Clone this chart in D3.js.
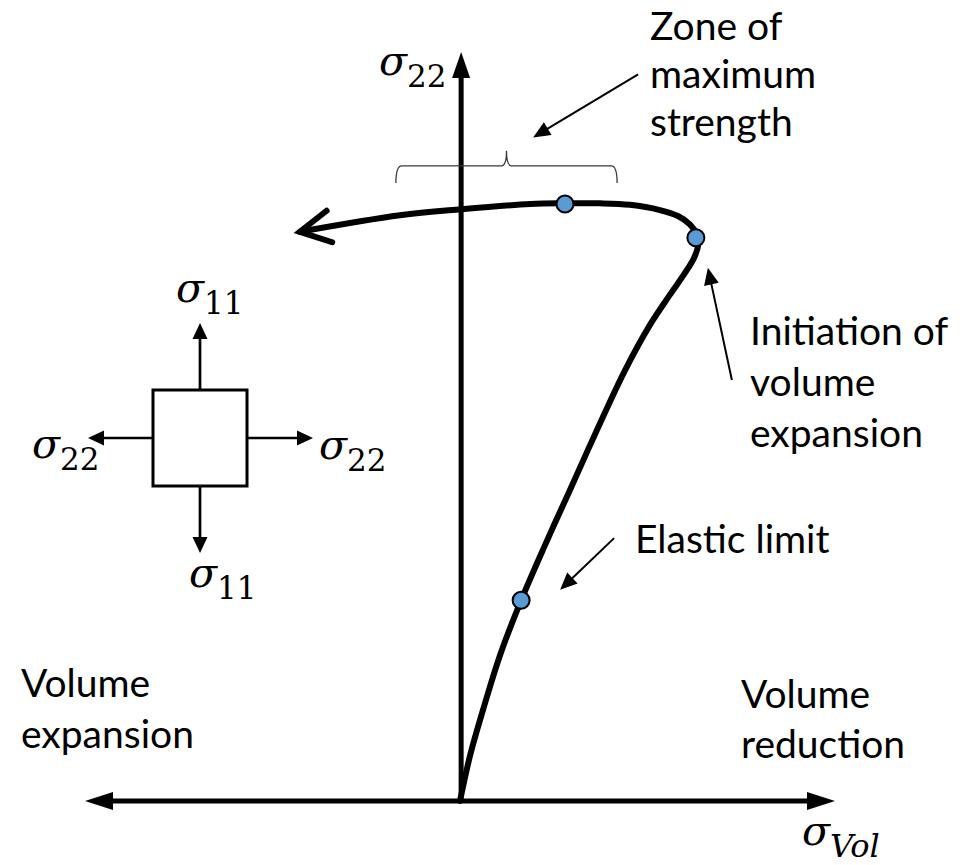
<!DOCTYPE html>
<html>
<head>
<meta charset="utf-8">
<script src="https://cdn.jsdelivr.net/npm/d3@7"></script>
<style>
  html, body { margin: 0; padding: 0; background: #fff; }
  svg { display: block; }
</style>
</head>
<body>
<svg id="chart" width="967" height="865"></svg>
<script>
// Stress path: volumetric stress (x) against axial stress sigma_22 (y), normalised units
const curveX = [0, 0.027, 0.061, 0.107, 0.163, 0.227, 0.293, 0.365, 0.440, 0.507, 0.560, 0.600, 0.624, 0.635, 0.632, 0.613, 0.581, 0.533, 0.453, 0.373, 0.283, 0.187, 0.003, -0.160, -0.427];
const curveY = [0, 0.061, 0.121, 0.195, 0.268, 0.342, 0.415, 0.495, 0.575, 0.636, 0.676, 0.705, 0.725, 0.742, 0.756, 0.770, 0.781, 0.789, 0.796, 0.798, 0.798, 0.797, 0.790, 0.782, 0.760];

// Key points on the path
const keyNames = ["Elastic limit", "Initiation of volume expansion", "Maximum strength"];
const keyX = [0.163, 0.629, 0.280];
const keyY = [0.268, 0.752, 0.797];

// Text labels
const axisLabelY = { sym: "σ", sub: "22", subItalic: false };
const axisLabelX = { sym: "σ", sub: "Vol", subItalic: true };
const zoneLines = ["Zone of", "maximum", "strength"];
const initLines = ["Initiation of", "volume", "expansion"];
const elasticLines = ["Elastic limit"];
const leftRegion = ["Volume", "expansion"];
const rightRegion = ["Volume", "reduction"];

const svg = d3.select("#chart");
const x = d3.scaleLinear().domain([-1, 1]).range([85, 835]);
const y = d3.scaleLinear().domain([0, 1]).range([801, 52]);

const textFont = "Lato, 'Open Sans', sans-serif";
const mathFont = "'DejaVu Serif', serif";

const defs = svg.append("defs");
defs.append("marker")
  .attr("id", "chevron")
  .attr("markerUnits", "userSpaceOnUse")
  .attr("orient", "auto")
  .attr("markerWidth", 80).attr("markerHeight", 80)
  .attr("viewBox", "-40 -40 80 80")
  .attr("refX", 0).attr("refY", 0)
  .append("path")
  .attr("d", "M-30,-16 L0,0 L-30,16")
  .attr("fill", "none").attr("stroke", "#000")
  .attr("stroke-width", 6).attr("stroke-linecap", "round").attr("stroke-linejoin", "miter");

// filled arrowhead helper: tip at (x2,y2)
function arrow(g, x1, y1, x2, y2, width, headLen, headHalf) {
  const a = Math.atan2(y2 - y1, x2 - x1);
  const bx = x2 - headLen * Math.cos(a), by = y2 - headLen * Math.sin(a);
  g.append("line").attr("x1", x1).attr("y1", y1).attr("x2", bx + Math.cos(a)).attr("y2", by + Math.sin(a))
    .attr("stroke", "#000").attr("stroke-width", width);
  const px = -Math.sin(a), py = Math.cos(a);
  g.append("path")
    .attr("d", `M${x2},${y2} L${bx + px * headHalf},${by + py * headHalf} L${bx - px * headHalf},${by - py * headHalf} Z`)
    .attr("fill", "#000");
}

// Axes
const axes = svg.append("g");
arrow(axes, x(0), y(0), x(-1), y(0), 5, 28, 9);
arrow(axes, x(0), y(0), x(1), y(0), 5, 28, 9);
arrow(axes, x(0.003), y(0) + 2, x(0.003), y(1), 5, 26, 9);

// Math labels
function mathLabel(g, px, py, lab, size, subSize) {
  const t = g.append("text").attr("x", px).attr("y", py)
    .attr("font-family", mathFont).attr("fill", "#000");
  t.append("tspan").attr("font-style", "italic").attr("font-size", size).text(lab.sym);
  t.append("tspan").attr("font-size", subSize).attr("dy", 12)
    .attr("font-style", lab.subItalic ? "italic" : "normal").text(lab.sub);
}
mathLabel(svg, 379, 75, axisLabelY, 41, 31);
mathLabel(svg, 802, 845, axisLabelX, 41, 32);

// Stress path
const pts = curveX.map((v, i) => ({ x: v, y: curveY[i] }));
const line = d3.line().x(d => x(d.x)).y(d => y(d.y)).curve(d3.curveCatmullRom.alpha(0.5));
svg.append("path").datum(pts)
  .attr("d", line)
  .attr("fill", "none").attr("stroke", "#000")
  .attr("stroke-width", 6).attr("stroke-linecap", "round")
  .attr("marker-end", "url(#chevron)");

// Key points
svg.selectAll("circle.key").data(keyX.map((v, i) => ({ x: v, y: keyY[i], name: keyNames[i] })))
  .join("circle").attr("class", "key")
  .attr("cx", d => x(d.x)).attr("cy", d => y(d.y)).attr("r", 8.5)
  .attr("fill", "#5B9BD5").attr("stroke", "#000").attr("stroke-width", 2);

// Brace over the zone of maximum strength
const bx0 = x(-0.171), bx1 = x(0.419), bm = (bx0 + bx1) / 2;
const by0 = y(0.825), byL = y(0.848), byT = y(0.868);
svg.append("path")
  .attr("d", `M${bx0},${by0} Q${bx0},${byL} ${bx0 + 6},${byL} L${bm - 5},${byL} Q${bm},${byL} ${bm},${byT}` +
             ` Q${bm},${byL} ${bm + 5},${byL} L${bx1 - 6},${byL} Q${bx1},${byL} ${bx1},${by0}`)
  .attr("fill", "none").attr("stroke", "#3a3a3a").attr("stroke-width", 1.3);

// Annotation arrows
const ann = svg.append("g");
arrow(ann, x(0.475), y(0.970), x(0.195), y(0.886), 2, 17, 7.5);
arrow(ann, x(0.725), y(0.562), x(0.661), y(0.712), 2, 17, 7.5);
arrow(ann, x(0.411), y(0.351), x(0.267), y(0.282), 2, 17, 7.5);

// Text annotations
function lines(g, px, py, arr, step, size) {
  const t = g.append("text").attr("font-family", textFont).attr("font-size", size || 39).attr("fill", "#000");
  arr.forEach((s, i) => t.append("tspan").attr("x", px).attr("y", py + i * step).text(s));
}
lines(svg, 650, 40, zoneLines, 48, 39);
lines(svg, 750, 345, initLines, 51);
lines(svg, 635, 553, elasticLines, 50);
lines(svg, 21, 697, leftRegion, 51);
lines(svg, 741, 708, rightRegion, 50);

// Biaxial stress element
const el = svg.append("g");
el.append("rect").attr("x", 153).attr("y", 390).attr("width", 94).attr("height", 96)
  .attr("fill", "#fff").attr("stroke", "#000").attr("stroke-width", 3);
arrow(el, 200, 390, 200, 323, 2.7, 16, 7.5);
arrow(el, 200, 486, 200, 553, 2.7, 16, 7.5);
arrow(el, 247, 438, 313, 438, 2.7, 16, 7.5);
arrow(el, 153, 438, 88, 438, 2.7, 16, 7.5);
mathLabel(el, 176, 302, { sym: "σ", sub: "11" }, 41, 31);
mathLabel(el, 189, 587, { sym: "σ", sub: "11" }, 41, 31);
mathLabel(el, 32, 458, { sym: "σ", sub: "22" }, 41, 31);
mathLabel(el, 319, 459, { sym: "σ", sub: "22" }, 41, 31);
</script>
</body>
</html>
